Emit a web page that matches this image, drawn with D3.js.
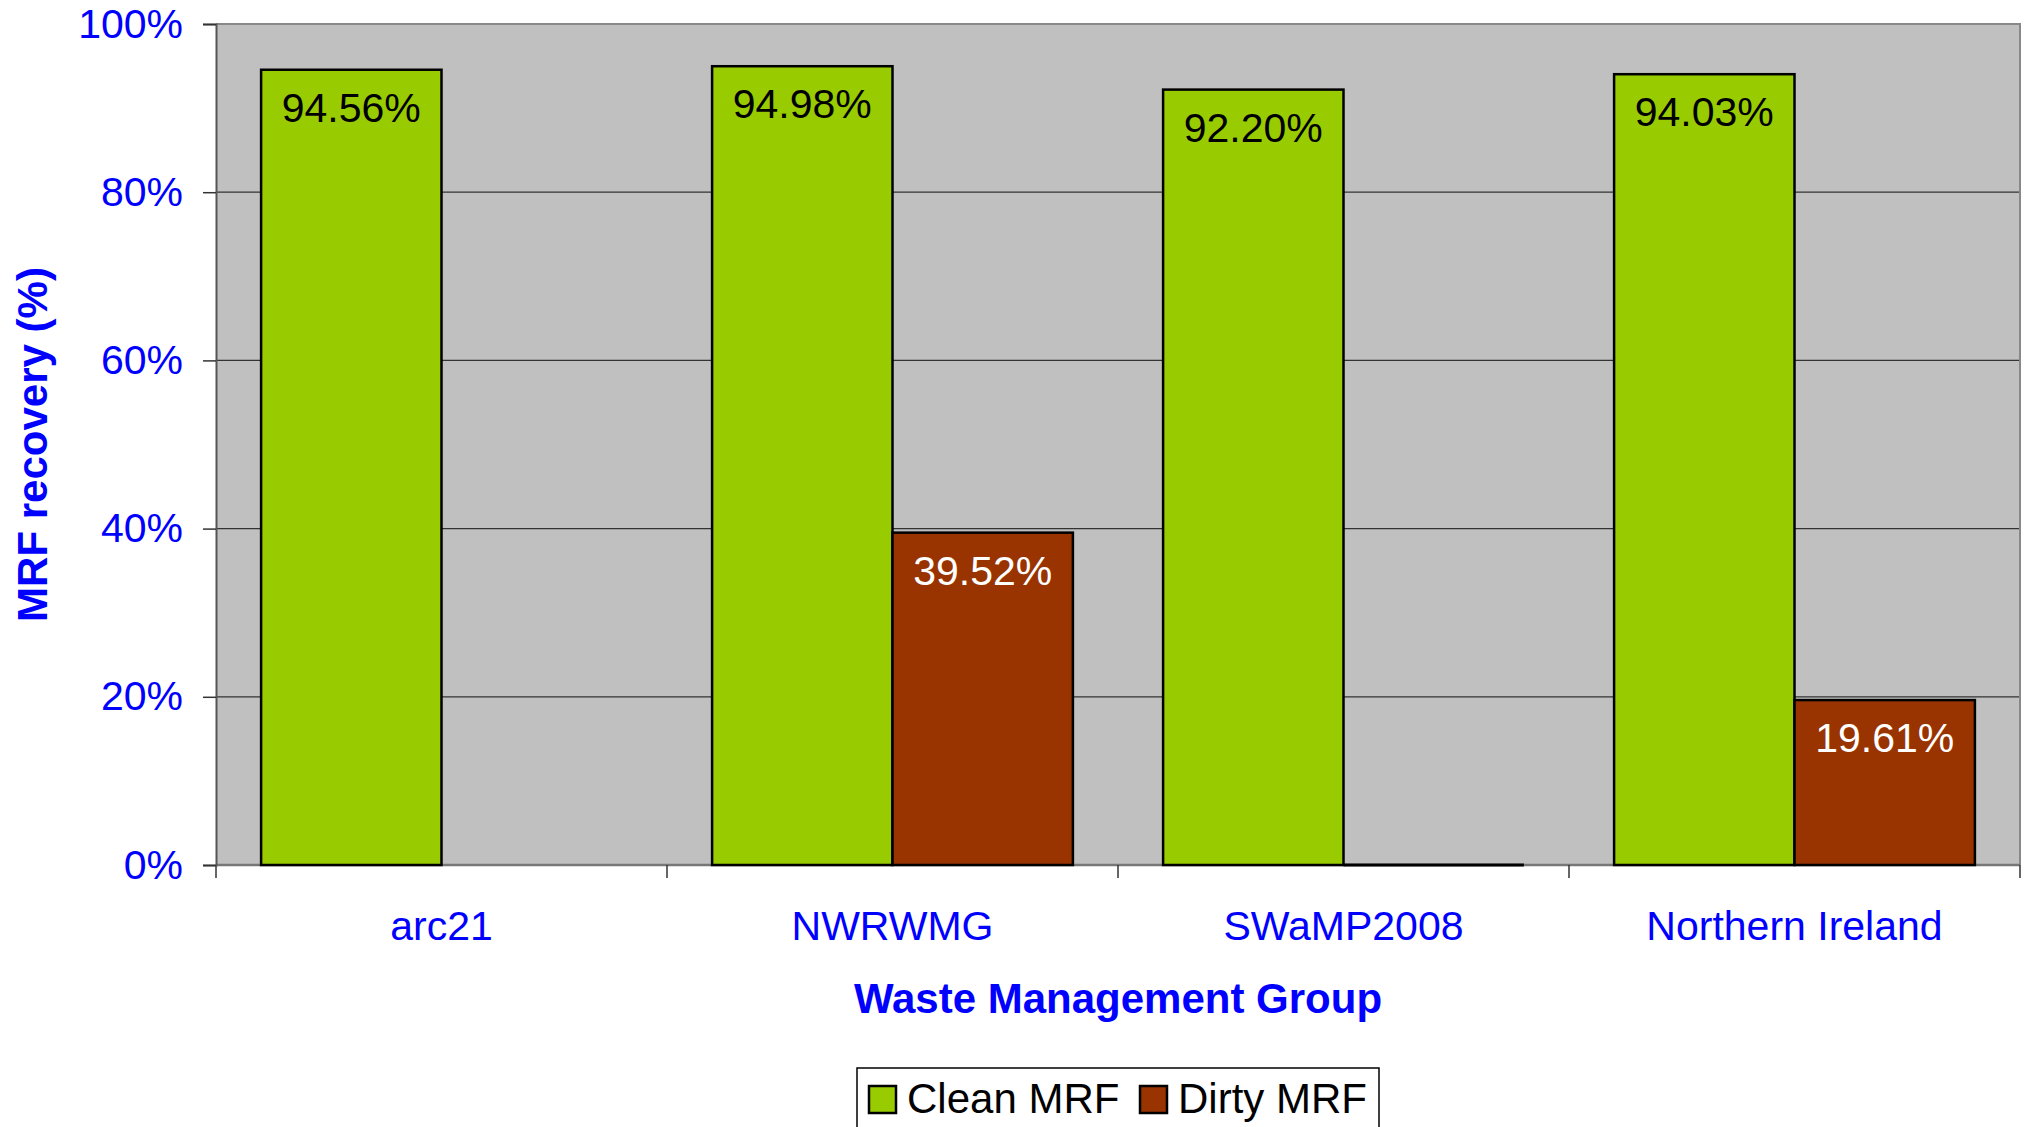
<!DOCTYPE html>
<html>
<head>
<meta charset="utf-8">
<script src="https://cdn.jsdelivr.net/npm/d3@7"></script>
<style>
  body { margin: 0; background: #fff; }
  text { font-family: "Liberation Sans", Arial, sans-serif; }
</style>
</head>
<body>
<div id="chart"></div>
<script>
// data
const groups = ["arc21", "NWRWMG", "SWaMP2008", "Northern Ireland"];
const seriesNames = ["Clean MRF", "Dirty MRF"];
const cleanMRF = [94.56, 94.98, 92.2, 94.03];
const dirtyMRF = [null, 39.52, 0, 19.61];
const yTicks = [0, 20, 40, 60, 80, 100];

const colors = { "Clean MRF": "#99CC00", "Dirty MRF": "#993300" };
const labelColors = { "Clean MRF": "#000", "Dirty MRF": "#fff" };

// set the dimensions and margins of the graph
const margin = { top: 24, right: 9, bottom: 262, left: 216 },
  width = 2029 - margin.left - margin.right,
  height = 1127 - margin.top - margin.bottom;

const svgRoot = d3
  .select("#chart")
  .append("svg")
  .attr("width", 2029)
  .attr("height", 1127);

const svg = svgRoot
  .append("g")
  .attr("transform", `translate(${margin.left},${margin.top})`);

// scales
const x0 = d3.scaleBand().domain(groups).range([0, width]).padding(0);
const x1 = d3
  .scaleBand()
  .domain(seriesNames)
  .range([x0.bandwidth() * 0.1, x0.bandwidth() * 0.9])
  .padding(0);
const y = d3.scaleLinear().domain([0, 100]).range([height, 0]);

// plot area
svg
  .append("rect")
  .attr("width", width)
  .attr("height", height)
  .attr("fill", "#C0C0C0");

// gridlines
svg
  .append("g")
  .selectAll("line")
  .data(yTicks.filter((t) => t > 0 && t < 100))
  .join("line")
  .attr("x1", 0)
  .attr("x2", width)
  .attr("y1", (d) => y(d))
  .attr("y2", (d) => y(d))
  .attr("stroke", "#333")
  .attr("stroke-width", 1.2);

// top and right border
svg
  .append("path")
  .attr("d", `M0,${y(100)}H${width}V${height}`)
  .attr("fill", "none")
  .attr("stroke", "#888")
  .attr("stroke-width", 2);

// X axis line (drawn under the bars)
const xAxis = svg.append("g").attr("transform", `translate(0,${height})`);
xAxis
  .append("line")
  .attr("x1", 0)
  .attr("x2", width)
  .attr("stroke", "#777")
  .attr("stroke-width", 2.5);

// build rows for the bars
const rows = [];
groups.forEach((g, i) => {
  rows.push({ group: g, series: "Clean MRF", value: cleanMRF[i] });
  if (dirtyMRF[i] !== null)
    rows.push({ group: g, series: "Dirty MRF", value: dirtyMRF[i] });
});

// bars
svg
  .append("g")
  .selectAll("rect")
  .data(rows.filter((d) => d.value > 0))
  .join("rect")
  .attr("x", (d) => x0(d.group) + x1(d.series))
  .attr("y", (d) => y(d.value))
  .attr("width", x1.bandwidth())
  .attr("height", (d) => height - y(d.value))
  .attr("fill", (d) => colors[d.series])
  .attr("stroke", "#000")
  .attr("stroke-width", 2.5);

// zero-height bars show only as a flat outline
svg
  .append("g")
  .selectAll("line")
  .data(rows.filter((d) => d.value === 0))
  .join("line")
  .attr("x1", (d) => x0(d.group) + x1(d.series))
  .attr("x2", (d) => x0(d.group) + x1(d.series) + x1.bandwidth())
  .attr("y1", (d) => y(d.value))
  .attr("y2", (d) => y(d.value))
  .attr("stroke", "#000")
  .attr("stroke-width", 3);

// Y axis
const yAxis = svg
  .append("g")
  .call(
    d3
      .axisLeft(y)
      .tickValues(yTicks)
      .tickSize(13)
      .tickPadding(20)
      .tickFormat((d) => d + "%"),
  );
yAxis.select(".domain").attr("stroke", "#555").attr("stroke-width", 2);
yAxis.selectAll(".tick line").attr("stroke", "#333").attr("stroke-width", 1.5);
yAxis
  .selectAll(".tick text")
  .attr("fill", "#0000FF")
  .attr("font-size", 41)
  .attr("font-family", "Liberation Sans, Arial, sans-serif");

// X axis: ticks at the boundaries of the groups
xAxis
  .selectAll(".sep")
  .data(groups.concat([null]))
  .join("line")
  .attr("class", "sep")
  .attr("x1", (d) => (d === null ? width : x0(d)))
  .attr("x2", (d) => (d === null ? width : x0(d)))
  .attr("y1", 0)
  .attr("y2", 13)
  .attr("stroke", "#333")
  .attr("stroke-width", 1.5);
xAxis
  .selectAll(".lbl")
  .data(groups)
  .join("text")
  .attr("class", "lbl")
  .attr("x", (d) => x0(d) + x0.bandwidth() / 2)
  .attr("y", 75)
  .attr("text-anchor", "middle")
  .attr("fill", "#0000FF")
  .attr("font-size", 41)
  .text((d) => d);

// data labels
svg
  .append("g")
  .selectAll("text")
  .data(rows.filter((d) => d.value > 0))
  .join("text")
  .attr("x", (d) => x0(d.group) + x1(d.series) + x1.bandwidth() / 2)
  .attr("y", (d) => y(d.value) + 52)
  .attr("text-anchor", "middle")
  .attr("fill", (d) => labelColors[d.series])
  .attr("font-size", 41)
  .text((d) => d.value.toFixed(2) + "%");

//add titles
svg
  .append("text")
  .attr("x", width / 2)
  .attr("y", height + 148)
  .attr("text-anchor", "middle")
  .attr("fill", "#0000FF")
  .attr("font-size", 42)
  .attr("font-weight", "bold")
  .text("Waste Management Group");

svgRoot
  .append("text")
  .attr("transform", `translate(47,${margin.top + height / 2}) rotate(-90)`)
  .attr("text-anchor", "middle")
  .attr("fill", "#0000FF")
  .attr("font-size", 42)
  .attr("font-weight", "bold")
  .text("MRF recovery (%)");

// legend
const legend = svgRoot.append("g").attr("transform", "translate(857,1068)");
legend
  .append("rect")
  .attr("width", 522)
  .attr("height", 90)
  .attr("fill", "#fff")
  .attr("stroke", "#000")
  .attr("stroke-width", 1.5);
const items = legend
  .selectAll(".item")
  .data(seriesNames)
  .join("g")
  .attr("class", "item")
  .attr("transform", (d, i) => `translate(${12 + i * 271},0)`);
items
  .append("rect")
  .attr("y", 18)
  .attr("width", 27)
  .attr("height", 27)
  .attr("fill", (d) => colors[d])
  .attr("stroke", "#000")
  .attr("stroke-width", 2.5);
items
  .append("text")
  .attr("x", 38)
  .attr("y", 45)
  .attr("fill", "#000")
  .attr("font-size", 42)
  .text((d) => d);
</script>
</body>
</html>
